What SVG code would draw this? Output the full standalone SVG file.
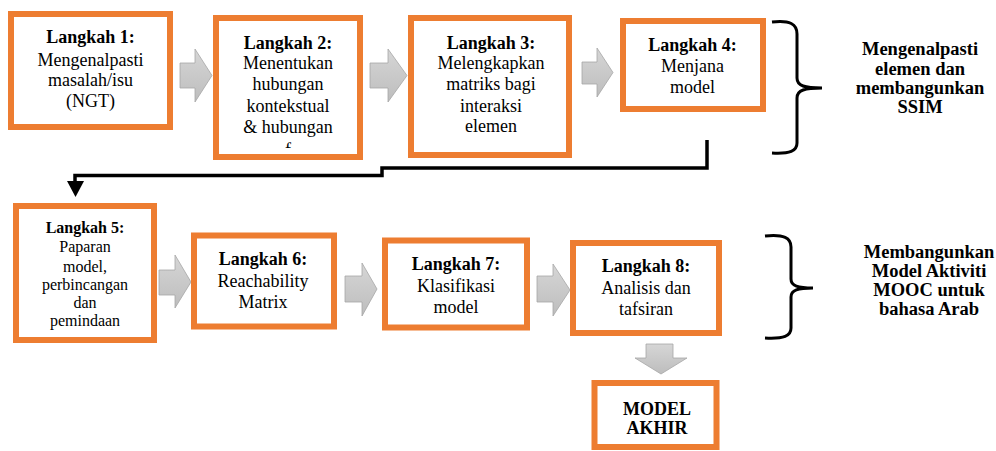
<svg xmlns="http://www.w3.org/2000/svg" width="996" height="451" viewBox="0 0 996 451">
<style>
.box{fill:#fff;stroke:#ED7D31;stroke-width:6}
.t{font-family:"Liberation Serif","Times New Roman",serif;font-size:18px;fill:#000;text-anchor:middle}
.b{font-weight:bold}
.s{font-size:16px}
.blk{fill:url(#g);stroke:#a6a6a6;stroke-width:0.8}
.brace{fill:none;stroke:#000;stroke-width:3}
.lbl{font-family:"Liberation Serif","Times New Roman",serif;font-size:18.5px;font-weight:bold;fill:#000;text-anchor:middle}
</style>
<defs>
<linearGradient id="g" x1="0" y1="0" x2="0" y2="1">
<stop offset="0" stop-color="#d6d6d6"/>
<stop offset="1" stop-color="#bdbdbd"/>
</linearGradient>
<clipPath id="c2"><rect x="219" y="21" width="138" height="127"/></clipPath>
</defs>
<rect width="996" height="451" fill="#fff"/>

<g id="connectors">
<path class="blk" d="M180,63 H195 V49 L212,75.5 L195,102 V88 H180 Z"/>
<path class="blk" d="M370,63 H388 V49 L407,75.5 L388,102 V88 H370 Z"/>
<path class="blk" d="M582,62 H597 V48 L613,72.5 L597,97 V84 H582 Z"/>
<path class="blk" d="M159,270 H175 V255 L191,282 L175,308 V295 H159 Z"/>
<path class="blk" d="M345,276 H362 V263 L377,289 L362,316 V302 H345 Z"/>
<path class="blk" d="M537,276 H553 V264 L570,290 L553,316 V302 H537 Z"/>
<path class="blk" d="M646,344 H673 V358 H687 L661,374 L635,358 H646 Z"/>
<path d="M707,140 V168 H382 V175.5 H75 V181" fill="none" stroke="#000" stroke-width="3.5"/>
<path d="M67,181 L84,181 L75.5,197 Z" fill="#000"/>
<path class="brace" d="M772,22 C790,20 797,24 797,34 L797,78 C797,86 805,88 822,88 C805,88 797,90 797,98 L797,143 C797,151 790,154 772,153"/>
<path class="brace" d="M765,236 C784,234 791,238 791,247 L791,279 C791,286 798,288 813,288 C798,288 791,290 791,297 L791,328 C791,336 784,339 765,338"/>
</g>

<g id="step1">
<rect class="box" x="11" y="14" width="159" height="113"/>
<text class="t b" x="90.5" y="43">Langkah 1:</text>
<text class="t" x="90.5" y="65.5">Mengenalpasti</text>
<text class="t" x="90.5" y="86">masalah/isu</text>
<text class="t" x="90.5" y="106.5">(NGT)</text>
</g>

<g id="step2">
<rect class="box" x="216" y="18" width="144" height="139"/>
<g clip-path="url(#c2)">
<text class="t b" x="288" y="48.5">Langkah 2:</text>
<text class="t" x="288" y="68.5">Menentukan</text>
<text class="t" x="288" y="90">hubungan</text>
<text class="t" x="288" y="111.5">kontekstual</text>
<text class="t" x="288" y="133">&amp; hubungan</text>
<text class="t" x="288" y="156">f</text>
</g>
</g>

<g id="step3">
<rect class="box" x="411" y="18" width="158" height="137"/>
<text class="t b" x="491" y="48.5">Langkah 3:</text>
<text class="t" x="491" y="69">Melengkapkan</text>
<text class="t" x="491" y="90">matriks bagi</text>
<text class="t" x="491" y="111.5">interaksi</text>
<text class="t" x="491" y="132">elemen</text>
</g>

<g id="step4">
<rect class="box" x="623" y="21" width="140" height="88"/>
<text class="t b" x="692.5" y="50.5">Langkah 4:</text>
<text class="t" x="692.5" y="72">Menjana</text>
<text class="t" x="692.5" y="93">model</text>
</g>

<g id="label1">
<text class="lbl" x="920" y="55">Mengenalpasti</text>
<text class="lbl" x="920" y="74.5">elemen dan</text>
<text class="lbl" x="920" y="93.5">membangunkan</text>
<text class="lbl" x="920" y="113">SSIM</text>
</g>

<g id="step5">
<rect class="box" x="16" y="206" width="138" height="134"/>
<text class="t s b" x="85" y="233">Langkah 5:</text>
<text class="t s" x="85" y="252">Paparan</text>
<text class="t s" x="85" y="271.5">model,</text>
<text class="t s" x="85" y="290">perbincangan</text>
<text class="t s" x="85" y="307.5">dan</text>
<text class="t s" x="85" y="325.5">pemindaan</text>
</g>

<g id="step6">
<rect class="box" x="194" y="235.5" width="140" height="91"/>
<text class="t b" x="263" y="265">Langkah 6:</text>
<text class="t" x="263" y="287">Reachability</text>
<text class="t" x="263" y="308">Matrix</text>
</g>

<g id="step7">
<rect class="box" x="385" y="240.5" width="142" height="87"/>
<text class="t b" x="456" y="270">Langkah 7:</text>
<text class="t" x="456" y="292">Klasifikasi</text>
<text class="t" x="456" y="313">model</text>
</g>

<g id="step8">
<rect class="box" x="573" y="243" width="146" height="90"/>
<text class="t b" x="646" y="272">Langkah 8:</text>
<text class="t" x="646" y="294">Analisis dan</text>
<text class="t" x="646" y="315">tafsiran</text>
</g>

<g id="label2">
<text class="lbl" x="929" y="258">Membangunkan</text>
<text class="lbl" x="929" y="277">Model Aktiviti</text>
<text class="lbl" x="929" y="296">MOOC untuk</text>
<text class="lbl" x="929" y="315">bahasa Arab</text>
</g>

<g id="final">
<rect class="box" x="594.5" y="383" width="122" height="64"/>
<text class="t b" x="657" y="415">MODEL</text>
<text class="t b" x="657" y="434">AKHIR</text>
</g>
</svg>
